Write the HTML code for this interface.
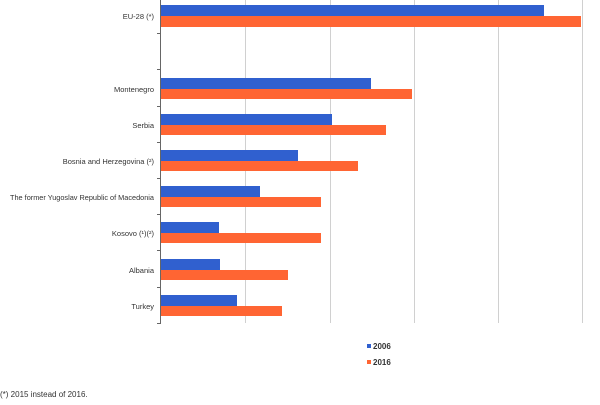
<!DOCTYPE html>
<html><head><style>
body{margin:0;width:600px;height:400px;background:#fff;overflow:hidden;font-family:"Liberation Sans",sans-serif;}
</style></head><body>
<svg width="600" height="400" xmlns="http://www.w3.org/2000/svg" font-family="Liberation Sans, sans-serif" font-size="8" fill="#333">
<g stroke="#d0d0d0" stroke-width="1">
<line x1="245.5" y1="0" x2="245.5" y2="323"/>
<line x1="330.5" y1="0" x2="330.5" y2="323"/>
<line x1="414.5" y1="0" x2="414.5" y2="323"/>
<line x1="498.5" y1="0" x2="498.5" y2="323"/>
<line x1="582.5" y1="0" x2="582.5" y2="323"/>
</g>
<g fill="#3060cf">
<rect x="161" y="5" width="383" height="11"/>
<rect x="161" y="78" width="210" height="11"/>
<rect x="161" y="114" width="171" height="11"/>
<rect x="161" y="150" width="137" height="11"/>
<rect x="161" y="186" width="99" height="11"/>
<rect x="161" y="222" width="58" height="11"/>
<rect x="161" y="259" width="59" height="11"/>
<rect x="161" y="295" width="76" height="11"/>
</g>
<g fill="#ff6533">
<rect x="161" y="16" width="420" height="11"/>
<rect x="161" y="89" width="251" height="10"/>
<rect x="161" y="125" width="225" height="10"/>
<rect x="161" y="161" width="197" height="10"/>
<rect x="161" y="197" width="160" height="10"/>
<rect x="161" y="233" width="160" height="10"/>
<rect x="161" y="270" width="127" height="10"/>
<rect x="161" y="306" width="121" height="10"/>
</g>
<g stroke="#666" stroke-width="1">
<line x1="160.5" y1="0" x2="160.5" y2="324"/>
<line x1="157" y1="33.5" x2="161" y2="33.5"/>
<line x1="157" y1="69.5" x2="161" y2="69.5"/>
<line x1="157" y1="106.5" x2="161" y2="106.5"/>
<line x1="157" y1="142.5" x2="161" y2="142.5"/>
<line x1="157" y1="178.5" x2="161" y2="178.5"/>
<line x1="157" y1="214.5" x2="161" y2="214.5"/>
<line x1="157" y1="250.5" x2="161" y2="250.5"/>
<line x1="157" y1="287.5" x2="161" y2="287.5"/>
<line x1="157" y1="323.5" x2="161" y2="323.5"/>
</g>
<g text-anchor="end" font-size="7.5">
<text x="154" y="19">EU-28 (*)</text>
<text x="154" y="92">Montenegro</text>
<text x="154" y="128">Serbia</text>
<text x="154" y="164">Bosnia and Herzegovina (²)</text>
<text x="154" y="200" textLength="144" lengthAdjust="spacingAndGlyphs">The former Yugoslav Republic of Macedonia</text>
<text x="154" y="236">Kosovo (¹)(²)</text>
<text x="154" y="273">Albania</text>
<text x="154" y="309">Turkey</text>
</g>
<rect x="367" y="344" width="4" height="4" fill="#3060cf"/>
<rect x="367" y="360" width="4" height="4" fill="#ff6533"/>
<text x="373" y="349" font-weight="bold">2006</text>
<text x="373" y="365" font-weight="bold">2016</text>
<text x="0" y="397">(*) 2015 instead of 2016.</text>
</svg>
</body></html>
